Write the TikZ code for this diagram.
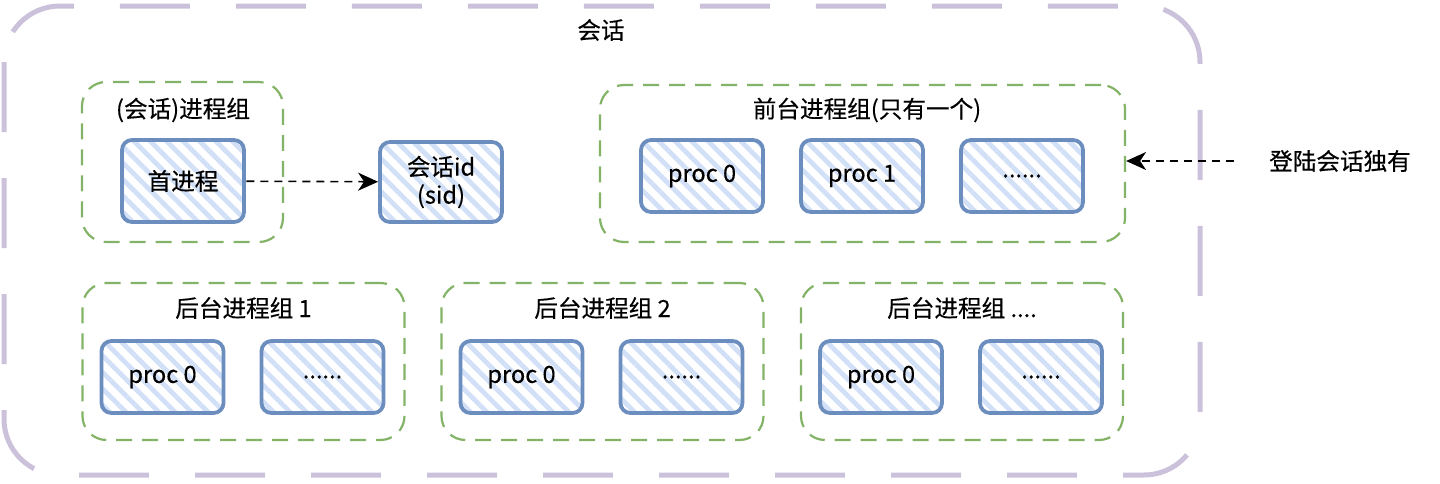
\documentclass[tikz,border=0pt]{standalone}
\usepackage{fontspec}
\setmainfont{Noto Sans CJK SC}[FakeBold=0.4]
\usetikzlibrary{patterns.meta,arrows.meta}
\definecolor{procblue}{HTML}{6C8EBF}
\definecolor{procfill}{HTML}{D2E0F7}
\definecolor{grpgreen}{HTML}{82B366}
\definecolor{sesspurple}{HTML}{CBC1DA}
\newcommand{\bgdots}{....}

\begin{document}
\begin{tikzpicture}[x=0.5pt, y=-0.5pt,
  every node/.style={font=\fontsize{11.8}{14}\selectfont},
  proc/.style={draw=procblue, line width=1.9pt, rounded corners=5pt,
    minimum width=61pt, minimum height=36pt, align=center,
    pattern={Lines[angle=-45, distance=5.8pt, line width=2.4pt]}, pattern color=procfill},
  grp/.style={draw=grpgreen, line width=1.1pt, dash pattern=on 8pt off 5pt,
    rounded corners=12pt, inner sep=0pt},
  flow/.style={-{Stealth[length=10pt, width=9pt, inset=3pt]}, line width=0.8pt, dash pattern=on 4pt off 3pt}]

  \useasboundingbox (0,0) rectangle (1440,483);

  % session
  \draw[sesspurple, line width=2.5pt, dash pattern=on 35pt off 23pt, rounded corners=28pt]
    (4,6) rectangle (1200,475);
  \node (sess) at (601,30) {会话};

  % session leader group
  \node[grp, minimum width=100.5pt, minimum height=80pt] (g0) at (182.5,162) {};
  \node (g0lbl) at (183,110) {(会话)进程组};
  \node[proc, minimum height=41pt] (leader) at (183,181) {首进程};
  \node[proc, minimum height=40pt] (sid) at (441,182) {会话id\\(sid)};
  \draw[flow] (leader) -- (sid);

  % foreground
  \node[grp, minimum width=262.5pt, minimum height=78.5pt] (fg) at (862.5,163.5) {};
  \node (fglbl) at (867,110) {前台进程组(只有一个)};
  \node[proc] (fg0) at (702,176) {proc 0};
  \node[proc] (fg1) at (862,176) {proc 1};
  \node[proc] (fg2) at (1022,176) {......};

  \node (login) at (1340,161) {登陆会话独有};
  \draw[flow, shorten <=14pt] (login.west) -- (login.west -| fg.east);

  % background
  \foreach \n/\cx/\lbl in {1/243.5/1, 2/602.5/2, 3/962/\bgdots} {
    \node[grp, minimum width=161pt, minimum height=78.5pt] (bg\n) at (\cx,361.5) {};
    \node (bg\n lbl) at (\cx,308) {后台进程组 \lbl};
    \node[proc] (bg\n p0) at (\cx-81,377) {proc 0};
    \node[proc] (bg\n px) at (\cx+79,377) {......};
  }

\end{tikzpicture}
\end{document}
